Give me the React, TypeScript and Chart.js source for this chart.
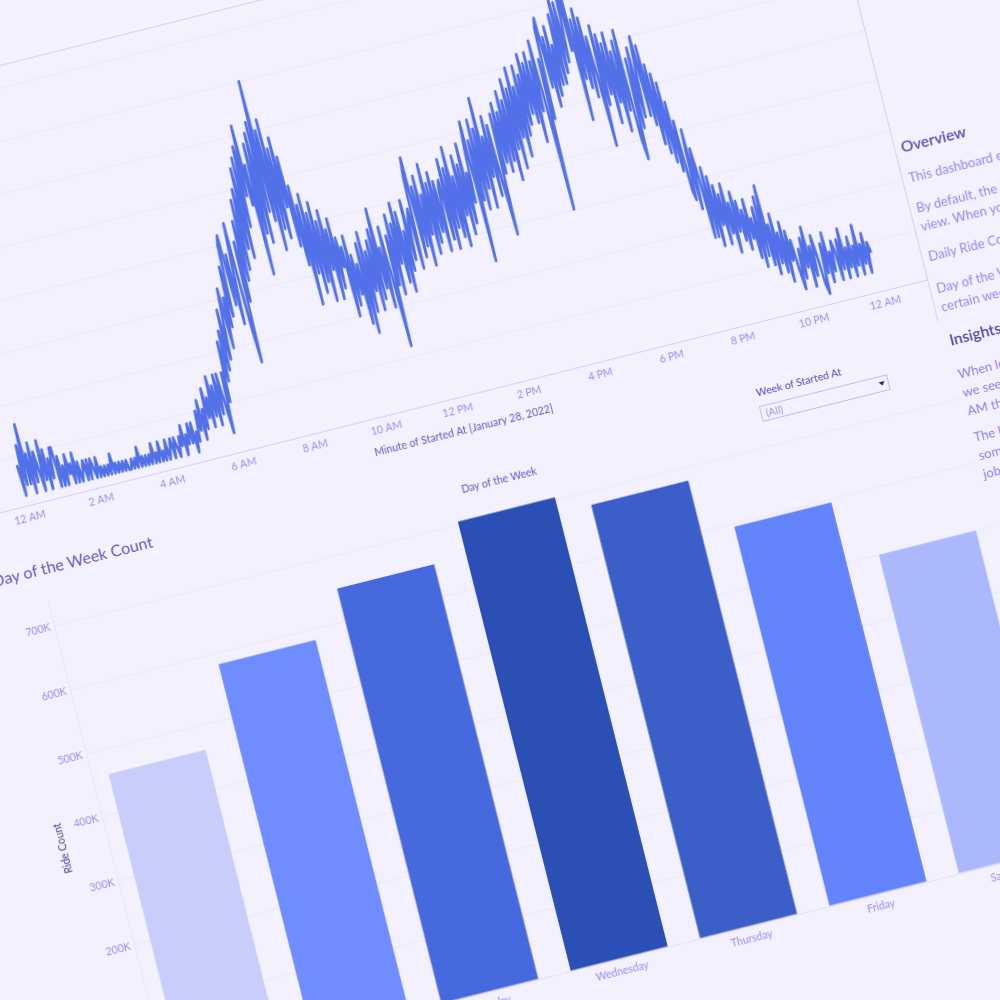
import React, { useEffect, useRef } from "react";
import { Chart, registerables } from "chart.js";

Chart.register(...registerables);

const FONT = "Lato, 'Noto Sans', sans-serif";

// Rides started per 3-minute step of the day (20 values per hour, 12 AM .. 11:57 PM)
const lineValues: number[] = [
  4, 1, 6, 2, 8, 2, 5, 1, 6, 2, 5, 3, 1, 6, 2, 5, 1, 4, 2, 5,
  5, 1, 4, 1, 3, 1, 4, 2, 3, 1, 4, 1, 3, 1, 2, 3, 1, 3, 1, 3,
  2, 1, 3, 1, 2, 1, 2, 1, 2, 1, 3, 1, 2, 1, 2, 1, 2, 1, 2, 1,
  1, 2, 1, 2, 1, 3, 1, 2, 1, 2, 1, 2, 1, 3, 1, 2, 1, 3, 1, 2,
  1, 3, 1, 2, 3, 1, 3, 2, 1, 3, 2, 4, 1, 3, 2, 4, 2, 4, 1, 3,
  2, 5, 3, 6, 2, 5, 3, 7, 4, 6, 3, 8, 4, 7, 3, 8, 4, 8, 5, 2,
  8, 5, 11, 7, 12, 8, 14, 9, 13, 16, 10, 15, 12, 18, 13, 20, 21, 14, 19, 12,
  18, 22, 12, 8, 20, 14, 22, 16, 24, 17, 25, 19, 27, 18, 28, 21, 29, 24, 31, 23,
  27, 16, 29, 20, 30, 19, 31, 22, 35, 21, 30, 18, 31, 20, 28, 19, 29, 22, 27, 18,
  24, 16, 22, 12, 23, 15, 21, 13, 22, 14, 20, 12, 21, 15, 19, 12, 20, 13, 18, 15,
  17, 10, 18, 11, 16, 12, 15, 9, 17, 8, 18, 10, 16, 12, 17, 10, 18, 11, 20, 12,
  16, 10, 18, 13, 6, 17, 12, 19, 11, 18, 14, 20, 12, 19, 11, 17, 13, 20, 14, 18,
  19, 13, 22, 24, 14, 21, 15, 22, 13, 20, 16, 23, 14, 21, 15, 22, 16, 21, 14, 20,
  21, 15, 23, 14, 22, 16, 24, 15, 21, 14, 23, 17, 22, 15, 24, 16, 21, 18, 23, 26,
  12, 24, 18, 26, 17, 25, 19, 28, 17, 24, 20, 26, 18, 25, 19, 14, 26, 20, 27, 21,
  26, 20, 28, 21, 27, 19, 29, 22, 28, 20, 30, 23, 28, 21, 30, 23, 29, 24, 31, 25,
  30, 24, 31, 22, 30, 25, 32, 26, 15, 30, 24, 33, 34, 27, 32, 25, 33, 26, 31, 27,
  34, 27, 36, 28, 35, 29, 33, 38, 30, 36, 23, 33, 27, 34, 26, 33, 25, 31, 27, 20,
  32, 24, 31, 25, 30, 22, 31, 24, 29, 21, 30, 23, 31, 20, 18, 28, 21, 29, 22, 27,
  30, 22, 29, 21, 27, 19, 26, 18, 25, 17, 23, 16, 21, 14, 13, 20, 12, 18, 15, 9,
  16, 9, 15, 8, 14, 10, 13, 8, 14, 9, 12, 7, 13, 9, 12, 8, 11, 7, 12, 8,
  10, 6, 11, 5, 12, 6, 13, 5, 9, 4, 10, 5, 8, 4, 9, 3, 8, 5, 7, 4,
  2, 6, 3, 7, 4, 8, 2, 6, 3, 7, 5, 2, 1, 6, 3, 7, 2, 5, 3, 6,
  5, 2, 6, 3, 7, 2, 5, 3, 6, 2, 5, 3, 7, 2, 5, 3, 6, 2, 5, 4,
];
const lineStepMinutes = 3;
const lineXTicks = [0, 120, 240, 360, 480, 600, 720, 840, 960, 1080, 1200, 1320, 1440];
const lineXTickLabels = [
  "12 AM", "2 AM", "4 AM", "6 AM", "8 AM", "10 AM", "12 PM",
  "2 PM", "4 PM", "6 PM", "8 PM", "10 PM", "12 AM",
];
const lineYTicks = [0, 5, 10, 15, 20, 25, 30, 35, 40];

const days = ["Sunday", "Monday", "Tuesday", "Wednesday", "Thursday", "Friday", "Saturday"];
const dayCounts = [462000, 583000, 651000, 705000, 680000, 595000, 500000];
const dayColors = ["#c9cdfc", "#6f8dff", "#4769de", "#2c4fb5", "#3b5ec8", "#6384fb", "#abb9fc"];
const barYTicks = [0, 100000, 200000, 300000, 400000, 500000, 600000, 700000];

const BG = "#f3f1fe";
const LINE = "#5270e8";
const AXIS_LINE = "#d6ccfd";
const GRID = "#ebe7fa";
const TICK = "#a08bf2";
const DARK = "#5f4bb4";
const BODY = "#9a86ef";

const abs = (left: number, top: number, extra: React.CSSProperties = {}): React.CSSProperties => ({
  position: "absolute",
  left,
  top,
  whiteSpace: "nowrap",
  fontFamily: FONT,
  ...extra,
});

export default function App() {
  const lineRef = useRef<HTMLCanvasElement>(null);
  const barRef = useRef<HTMLCanvasElement>(null);

  useEffect(() => {
    Chart.defaults.font.family = FONT;
    const lc = new Chart(lineRef.current as HTMLCanvasElement, {
      type: "line",
      data: {
        datasets: [
          {
            data: lineValues.map((y, i) => ({ x: i * lineStepMinutes, y })),
            borderColor: LINE,
            borderWidth: 2.6,
            pointRadius: 0,
            tension: 0,
            borderJoinStyle: "round",
            borderCapStyle: "round",
          },
        ],
      },
      options: {
        responsive: false,
        animation: false,
        layout: { padding: { top: 8, right: 19, left: 0, bottom: 0 } },
        plugins: { legend: { display: false }, tooltip: { enabled: false } },
        scales: {
          x: {
            type: "linear",
            min: -72,
            max: 1515,
            afterBuildTicks: (s: any) => {
              s.ticks = lineXTicks.map((v) => ({ value: v }));
            },
            afterFit: (s: any) => {
              s.height = 43.5;
            },
            ticks: {
              callback: (_v: any, i: number) => lineXTickLabels[i],
              color: TICK,
              font: { family: FONT, size: 10.5 },
              padding: 6,
              maxRotation: 0,
              autoSkip: false,
            },
            grid: { display: false, drawTicks: false },
            border: { display: true, color: AXIS_LINE, width: 1 },
            title: {
              display: true,
              text: "Minute of Started At [January 28, 2022]",
              color: "#6b55c2",
              font: { family: FONT, size: 10.5 },
              padding: { top: 0, bottom: 4 },
            },
          },
          y: {
            min: 0,
            max: 42.2,
            afterBuildTicks: (s: any) => {
              s.ticks = lineYTicks.map((v) => ({ value: v }));
            },
            afterFit: (s: any) => {
              s.width = 9;
            },
            ticks: { display: false },
            grid: { color: GRID, drawTicks: false },
            border: { display: false },
          },
        },
      },
    } as any);

    const bc = new Chart(barRef.current as HTMLCanvasElement, {
      type: "bar",
      data: {
        labels: days,
        datasets: [
          {
            data: dayCounts,
            backgroundColor: dayColors,
            barPercentage: 0.75,
            categoryPercentage: 1,
            borderWidth: 0,
          },
        ],
      },
      options: {
        responsive: false,
        animation: false,
        layout: { padding: { top: 10, right: 10, left: 0, bottom: 0 } },
        plugins: { legend: { display: false }, tooltip: { enabled: false } },
        scales: {
          x: {
            afterFit: (s: any) => {
              s.height = 39;
            },
            ticks: {
              color: TICK,
              font: { family: FONT, size: 10.5 },
              padding: 6,
              maxRotation: 0,
              autoSkip: false,
            },
            grid: { display: false, drawTicks: false },
            border: { display: true, color: "#e4dffa" },
          },
          y: {
            min: 0,
            max: 738600,
            afterBuildTicks: (s: any) => {
              s.ticks = barYTicks.map((v) => ({ value: v }));
            },
            afterFit: (s: any) => {
              s.width = 56;
            },
            ticks: {
              callback: (v: any) => `${Number(v) / 1000}K`,
              color: TICK,
              font: { family: FONT, size: 10.5 },
              padding: 4,
            },
            grid: { color: GRID, drawTicks: false },
            border: { display: true, color: "#e8e4f9" },
            title: {
              display: true,
              text: "Ride Count",
              color: "#4e3f8c",
              font: { family: FONT, size: 10.5 },
              padding: { top: 4, bottom: 0 },
            },
          },
        },
      },
    } as any);

    return () => {
      lc.destroy();
      bc.destroy();
    };
  }, []);

  const para = (lines: string[], top: number, color = BODY) => (
    <div style={abs(838, top, { fontSize: 13, lineHeight: "19px", color })}>
      {lines.map((l, i) => (
        <div key={i}>{l}</div>
      ))}
    </div>
  );

  return (
    <div
      style={{
        position: "fixed",
        left: 0,
        top: 0,
        width: "100vw",
        height: "100vh",
        overflow: "hidden",
        background: BG,
      }}
    >
      <div
        style={{
          position: "absolute",
          left: 0,
          top: 0,
          width: 0,
          height: 0,
          transformOrigin: "0 0",
          transform: "rotate(-14.1deg)",
        }}
      >
        {/* line chart frame */}
        <div style={{ position: "absolute", left: -160, top: 62.5, width: 991, height: 1, background: AXIS_LINE }} />
        <div style={{ position: "absolute", left: 831, top: 62.5, width: 1, height: 477, background: AXIS_LINE }} />
        <canvas ref={lineRef} width={1000} height={486} style={{ position: "absolute", left: -150, top: 55 }} />

        {/* text panel */}
        <div style={abs(838, 352, { fontSize: 15.5, lineHeight: "20px", color: DARK, fontWeight: 600 })}>Overview</div>
        {para(["This dashboard explores Divvy bike share rides across Chicago."], 384.5)}
        {para(
          [
            "By default, the charts show every week of ride data in one",
            "view. When you pick a week in the filter, both charts update.",
          ],
          415.5
        )}
        {para(["Daily Ride Count shows the number of rides started each minute."], 466)}
        {para(
          [
            "Day of the Week Count shows total rides for each weekday, or for a",
            "certain week when one is selected.",
          ],
          498.5
        )}
        <div style={abs(838, 551, { fontSize: 15.5, lineHeight: "20px", color: DARK, fontWeight: 600 })}>Insights</div>
        {para(
          [
            "When looking at rides across the day,",
            "we see ridership climb quickly after 6",
            "AM then peak again around 5 PM.",
          ],
          586.5
        )}
        {para(
          [
            "The large number of weekday rides suggests that",
            "some riders use the bikes to commute to their",
            "jobs.",
          ],
          651.5
        )}

        {/* filter */}
        <div style={abs(637.5, 558.5, { fontSize: 10.5, lineHeight: "13px", color: "#6650be" })}>Week of Started At</div>
        <div
          style={{
            position: "absolute",
            left: 637,
            top: 579,
            width: 132,
            height: 16,
            boxSizing: "border-box",
            border: "1px solid #c7bbfb",
          }}
        >
          <div style={abs(4, 0, { fontSize: 10.5, lineHeight: "14px", color: "#a897ee" })}>(All)</div>
          <div
            style={{
              position: "absolute",
              left: 121,
              top: 5,
              width: 0,
              height: 0,
              borderLeft: "3px solid transparent",
              borderRight: "3px solid transparent",
              borderTop: "4px solid #2e2660",
            }}
          />
        </div>

        {/* bar chart */}
        <div style={abs(-149, 552, { fontSize: 16, lineHeight: "20px", color: "#7560c8" })}>Day of the Week Count</div>
        <canvas ref={barRef} width={1000} height={535} style={{ position: "absolute", left: -156, top: 585 }} />
        <div
          style={abs(267, 580.5, {
            width: 200,
            textAlign: "center",
            fontSize: 10.5,
            lineHeight: "13px",
            color: "#6b55c2",
          })}
        >
          Day of the Week
        </div>
      </div>
    </div>
  );
}
